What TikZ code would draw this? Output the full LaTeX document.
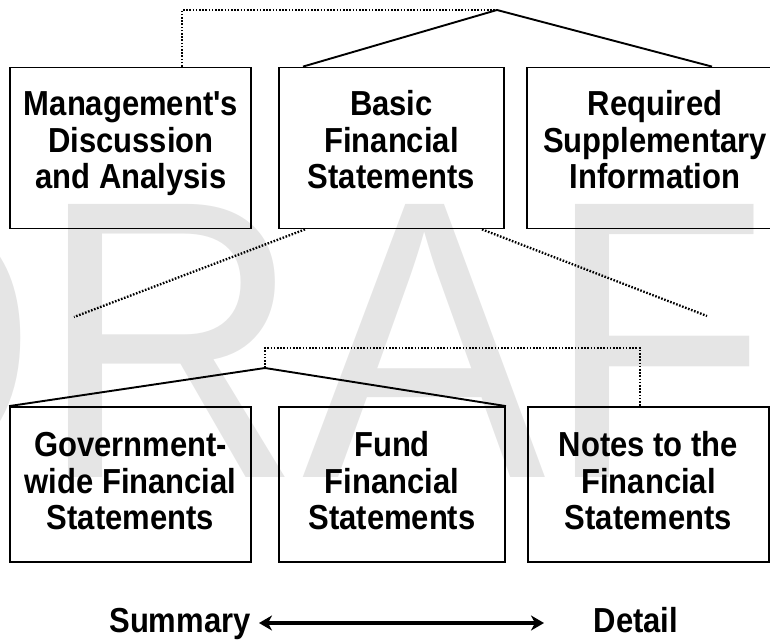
\documentclass[tikz,border=0pt]{standalone}
\usepackage{fontspec}
\setmainfont{Liberation Sans}
\usetikzlibrary{arrows.meta,calc}
\definecolor{wmgray}{RGB}{229,229,229}
\newcommand{\tall}[1]{\scalebox{1}[1.12]{#1}}
\tikzset{
  box/.style={draw=black, line width=1.8pt, rectangle, inner sep=0pt, fill=none},
  txt/.style={inner sep=0pt, anchor=base, font=\fontsize{31}{36}\selectfont\bfseries, text=black},
  solidline/.style={draw=black, line width=1.9pt, line join=miter},
  dotline/.style={draw=black, line width=2.3pt, dash pattern=on 1.6pt off 1.6pt},
  bigarrow/.style={draw=black, line width=3.6pt, {Stealth[length=13pt,width=15pt,inset=4pt]}-{Stealth[length=13pt,width=15pt,inset=4pt]}},
}
\begin{document}
\begin{tikzpicture}[x=1pt,y=-1pt]
\useasboundingbox (0,0) rectangle (770,639);
\begin{scope}
\clip (0,0) rectangle (770,639);
\node[inner sep=0pt, anchor=base west, text=wmgray, font=\fontsize{397}{400}\selectfont] (wm) at (-225.5,477) {\scalebox{0.92}[1]{DRAFT}};
\end{scope}

% top row boxes
\node[box, minimum width=241pt, minimum height=161pt] (mda) at (130.5,148) {};
\node[box, minimum width=225pt, minimum height=161pt] (basic) at (391.5,148) {};
\node[box, minimum width=256pt, minimum height=161pt] (rsi) at (655,148) {};
% bottom row boxes
\node[box, minimum width=241pt, minimum height=155pt] (gov) at (130.5,484.5) {};
\node[box, minimum width=226pt, minimum height=155pt] (fund) at (392,484.5) {};
\node[box, minimum width=241pt, minimum height=155pt] (notes) at (648.5,484.5) {};

% texts top row
\node[txt] (mda1) at (131,116) {\tall{Management\textquotesingle s}};
\node[txt] (mda2) at (131,152.5) {\tall{Discussion}};
\node[txt] (mda3) at (131,189) {\tall{and Analysis}};
\node[txt] (bas1) at (391.5,116) {\tall{Basic}};
\node[txt] (bas2) at (391.5,152.5) {\tall{Financial}};
\node[txt] (bas3) at (391.5,189) {\tall{Statements}};
\node[txt] (rsi1) at (655,116) {\tall{Required}};
\node[txt] (rsi2) at (655,152.5) {\tall{Supplementary}};
\node[txt] (rsi3) at (655,189) {\tall{Information}};
% texts bottom row
\node[txt] (gov1) at (130.5,456.5) {\tall{Government-}};
\node[txt] (gov2) at (130.5,493) {\tall{wide Financial}};
\node[txt] (gov3) at (130.5,529.5) {\tall{Statements}};
\node[txt] (fund1) at (392,456.5) {\tall{Fund}};
\node[txt] (fund2) at (392,493) {\tall{Financial}};
\node[txt] (fund3) at (392,529.5) {\tall{Statements}};
\node[txt] (not1) at (648.5,456.5) {\tall{Notes to the}};
\node[txt] (not2) at (648.5,493) {\tall{Financial}};
\node[txt] (not3) at (648.5,529.5) {\tall{Statements}};

% top connectors
\coordinate (ta) at (497,10);
\draw[dotline] ($(mda.north)+(51.5,0)$) |- (ta);
\draw[solidline] ($(basic.north)+(-88.5,0)$) -- (ta) -- ($(rsi.north)+(57,0)$);

% middle dotted fan
\coordinate (fl) at (74,317);
\coordinate (fr) at (707,316);
\draw[dotline] ($(basic.south)+(-86.5,0)$) -- (fl);
\draw[dotline] ($(basic.south)+(90.5,0)$) -- (fr);

% bottom connectors
\coordinate (ba) at (265,368);
\draw[dotline] (ba) -- ++(0,-20) -| ($(notes.north)+(-8.5,0)$);
\draw[solidline] (gov.north west) -- (ba) -- (fund.north east);

% summary / detail
\node[txt] (sum) at (180,632) {\tall{Summary}};
\node[txt] (det) at (636,632) {\tall{Detail}};
\coordinate (al) at (259,623);
\coordinate (ar) at (544,623);
\draw[bigarrow] (al) -- (ar);
\end{tikzpicture}
\end{document}
